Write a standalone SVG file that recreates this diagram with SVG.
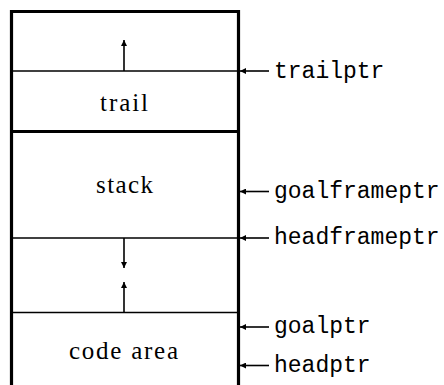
<svg xmlns="http://www.w3.org/2000/svg" width="444" height="385" viewBox="0 0 444 385">
<style>
.thick{stroke:#000;stroke-width:3.2;fill:none}
.thin{stroke:#000;stroke-width:1.6;fill:none}
.lbl{font-family:"Liberation Serif","Times New Roman",serif;font-size:25px;fill:#000;text-anchor:middle}
.ptr{font-family:"Liberation Mono","Courier New",monospace;font-size:23px;fill:#000}
</style>
<defs>
<marker id="ah" viewBox="0 0 10 10" refX="10" refY="5" markerWidth="9" markerHeight="6" markerUnits="userSpaceOnUse" orient="auto">
<path d="M0,0 L10,5 L0,10 Z" fill="#000"/>
</marker>
</defs>
<g id="frame">
<path class="thick" d="M11.5,385 V11.5 H238.5 V385"/>
<line class="thick" x1="10" y1="131.5" x2="240" y2="131.5"/>
<line class="thin" x1="11" y1="71" x2="238" y2="71"/>
<line class="thin" x1="11" y1="238" x2="238" y2="238"/>
<line class="thin" x1="11" y1="312.5" x2="238" y2="312.5"/>
</g>
<g id="trail"><text class="lbl" x="124" y="111" textLength="48" lengthAdjust="spacing">trail</text></g>
<g id="stack"><text class="lbl" x="124.5" y="193" textLength="57" lengthAdjust="spacing">stack</text></g>
<g id="codearea"><text class="lbl" x="123.5" y="359" textLength="109" lengthAdjust="spacing">code area</text></g>
<g id="trailptr"><text class="ptr" x="274" y="78">trailptr</text></g>
<g id="goalframeptr"><text class="ptr" x="274" y="198">goalframeptr</text></g>
<g id="headframeptr"><text class="ptr" x="274" y="244">headframeptr</text></g>
<g id="goalptr"><text class="ptr" x="274" y="333">goalptr</text></g>
<g id="headptr"><text class="ptr" x="274" y="372">headptr</text></g>
<g id="connectors" class="thin" marker-end="url(#ah)">
<line x1="124" y1="71" x2="124" y2="40"/>
<line x1="124" y1="238" x2="124" y2="268"/>
<line x1="124" y1="312" x2="124" y2="282"/>
<line x1="269" y1="71" x2="240" y2="71"/>
<line x1="269" y1="191.5" x2="240" y2="191.5"/>
<line x1="269" y1="238" x2="240" y2="238"/>
<line x1="269" y1="327" x2="240" y2="327"/>
<line x1="269" y1="365.5" x2="240" y2="365.5"/>
</g>
</svg>
